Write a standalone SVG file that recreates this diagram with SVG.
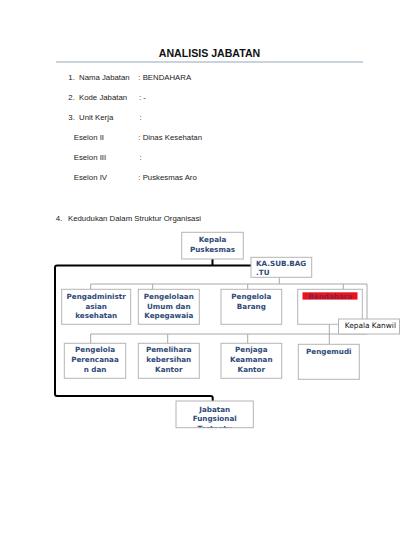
<svg xmlns="http://www.w3.org/2000/svg" width="400" height="550" viewBox="0 0 400 550">
<style>
.h{font-family:"Liberation Sans",Arial,sans-serif;font-size:7.8px;fill:#222}
.t{font-family:"Liberation Sans",Arial,sans-serif;font-size:10.6px;font-weight:bold;fill:#111}
.b{fill:#fff;stroke:#b4b4b4;stroke-width:1}
.n{font-family:"DejaVu Sans",Verdana,sans-serif;font-size:7.2px;font-weight:bold;fill:#2f4a78;text-anchor:middle}
.k{font-family:"DejaVu Sans",Verdana,sans-serif;font-size:7.4px;fill:#111}
.c{fill:none;stroke:#a8a8a8;stroke-width:1}
.th{fill:none;stroke:#000;stroke-width:2;stroke-linejoin:round}
</style>
<defs>
<clipPath id="clipJ"><rect x="176" y="401" width="77.3" height="26.5"/></clipPath>
</defs>
<rect width="400" height="550" fill="#fff"/>
<g id="header">
<text class="t" x="209.5" y="57" text-anchor="middle">ANALISIS JABATAN</text>
<line x1="56" y1="62" x2="363" y2="62" stroke="#b8c4d0" stroke-width="1.5"/>
<text class="h" x="68.3" y="79.5">1.</text><text class="h" x="79" y="79.5">Nama Jabatan</text><text class="h" x="138.3" y="79.5">: BENDAHARA</text>
<text class="h" x="68.3" y="99.5">2.</text><text class="h" x="79" y="99.5">Kode Jabatan</text><text class="h" x="139" y="99.5">:  -</text>
<text class="h" x="68.3" y="120">3.</text><text class="h" x="79" y="120">Unit Kerja</text><text class="h" x="139.5" y="120">:</text>
<text class="h" x="73.7" y="140">Eselon II</text><text class="h" x="138.3" y="140">: Dinas Kesehatan</text>
<text class="h" x="73.7" y="160">Eselon III</text><text class="h" x="139.5" y="160">:</text>
<text class="h" x="73.7" y="180">Eselon IV</text><text class="h" x="138.3" y="180">: Puskesmas Aro</text>
<text class="h" x="55.7" y="220.5">4.</text><text class="h" x="68" y="220.5">Kedudukan Dalam Struktur Organisasi</text>
</g>
<g id="connectors">
<path class="th" d="M212.5 259 V265.5 M251 265.5 H57 Q55 265.5 55 267.5 V394 Q55 396 57 396 H210.7 Q212.7 396 212.7 398 V401"/>
<path class="c" d="M279.3 277.3 V284 M90.7 284 H367 V334 M90.7 284 V289.3 M152.7 284 V289.3 M247.7 284 V289.3 M343.3 284 V289.3"/>
<path class="c" d="M329.3 324.3 V334 M90.7 334 H367 M90.7 334 V343.3 M167.7 334 V343.3 M247.7 334 V343.3 M329.3 334 V344.3"/>
</g>
<g id="kepala">
<rect class="b" x="181.7" y="232.3" width="61.6" height="26.7"/>
<text class="n" x="212.5" y="241.6">Kepala</text><text class="n" x="212.5" y="251.6">Puskesmas</text>
</g>
<g id="kasubbag">
<rect class="b" x="251" y="257.3" width="60.7" height="20"/>
<text class="n" x="256" y="266" text-anchor="start" style="text-anchor:start">KA.SUB.BAG</text>
<text class="n" x="256" y="275.3" style="text-anchor:start">.TU</text>
</g>
<g id="pengadministrasian">
<rect class="b" x="61.7" y="289.3" width="69" height="35"/>
<text class="n" x="96.2" y="299">Pengadministr</text><text class="n" x="96.2" y="308.7">asian</text><text class="n" x="96.2" y="318.3">kesehatan</text>
</g>
<g id="pengelolaan">
<rect class="b" x="138.3" y="289.3" width="61" height="35"/>
<text class="n" x="168.8" y="299">Pengelolaan</text><text class="n" x="168.8" y="308.7">Umum dan</text><text class="n" x="168.8" y="318.3">Kepegawaia</text>
</g>
<g id="pengelola-barang">
<rect class="b" x="221" y="289.3" width="60.7" height="35"/>
<text class="n" x="251.3" y="299">Pengelola</text><text class="n" x="251.3" y="308.7">Barang</text>
</g>
<g id="bendahara">
<rect class="b" x="297.7" y="289.3" width="64.6" height="35"/>
<rect x="302.5" y="292.3" width="55" height="7.3" fill="#e8141e"/>
<text class="n" x="330" y="298.6" style="fill:#8a2040">Bendahara</text>
</g>
<g id="kepala-kanwil">
<rect class="b" x="338.5" y="319" width="61" height="15"/>
<text class="k" x="344.7" y="328.3">Kepala Kanwil</text>
</g>
<g id="pengelola-perencanaan">
<rect class="b" x="64.3" y="343.3" width="61.4" height="35"/>
<text class="n" x="95" y="352">Pengelola</text><text class="n" x="95" y="361.9">Perencanaa</text><text class="n" x="95" y="371.7">n dan</text>
</g>
<g id="pemelihara">
<rect class="b" x="138.3" y="343.3" width="61" height="35"/>
<text class="n" x="168.8" y="352">Pemelihara</text><text class="n" x="168.8" y="361.9">kebersihan</text><text class="n" x="168.8" y="371.7">Kantor</text>
</g>
<g id="penjaga">
<rect class="b" x="221" y="343.3" width="60.7" height="35"/>
<text class="n" x="251.3" y="352">Penjaga</text><text class="n" x="251.3" y="361.9">Keamanan</text><text class="n" x="251.3" y="371.7">Kantor</text>
</g>
<g id="pengemudi">
<rect class="b" x="298.3" y="344.3" width="61" height="35"/>
<text class="n" x="328.8" y="353.7">Pengemudi</text>
</g>
<g id="jabatan-fungsional">
<rect class="b" x="176" y="401" width="77.3" height="26.7"/>
<g clip-path="url(#clipJ)">
<text class="n" x="214.7" y="411.6">Jabatan</text><text class="n" x="214.7" y="421">Fungsional</text><text class="n" x="214.7" y="430.5">Tertentu</text>
</g>
</g>
</svg>
